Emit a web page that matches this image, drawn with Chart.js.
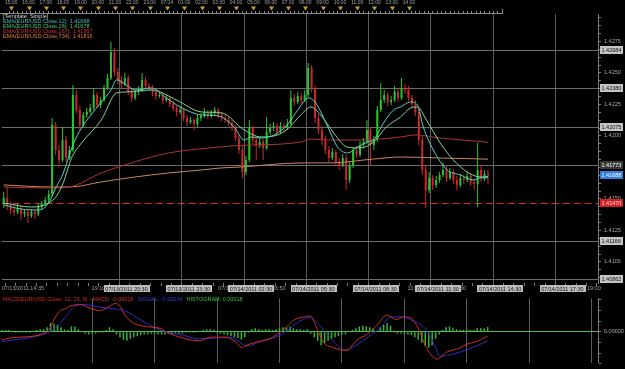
<!DOCTYPE html>
<html lang="en">
<head>
<meta charset="utf-8">
<title>EUR/USD with EMA and MACD</title>
<script src="https://cdn.jsdelivr.net/npm/chart.js@4.4.0/dist/chart.umd.min.js"></script>
<style>
  html, body { margin: 0; padding: 0; background: #000; }
  #wrap { position: relative; width: 625px; height: 369px; overflow: hidden; background: #000; }
  canvas { display: block; position: absolute; left: 0; }
  #main-chart { top: 0; }
  #macd-chart { top: 292px; }
</style>
</head>
<body>
<div id="wrap">
  <canvas id="main-chart" width="625" height="292"></canvas>
  <canvas id="macd-chart" width="625" height="77"></canvas>
</div>
<script>
// EUR/USD bars, one per 10 minutes starting 07/13/2011 14:35 (x value = bar number)
const opens = [1.41460,1.41508,1.41452,1.41412,1.41397,1.41428,1.41381,1.41397,1.41365,1.41397,
  1.41381,1.41436,1.41460,1.41492,1.41539,1.42087,1.41889,1.41809,1.41968,1.41825,
  1.41889,1.42326,1.42206,1.42087,1.42167,1.42191,1.42222,1.42326,1.42246,1.42286,
  1.42381,1.42461,1.42667,1.42508,1.42445,1.42413,1.42461,1.42349,1.42302,1.42349,
  1.42365,1.42445,1.42397,1.42381,1.42349,1.42318,1.42326,1.42286,1.42302,1.42254,
  1.42222,1.42191,1.42206,1.42143,1.42111,1.42127,1.42095,1.42143,1.42159,1.42191,
  1.42159,1.42183,1.42206,1.42167,1.42143,1.42127,1.42103,1.42064,1.41984,1.41889,
  1.41714,1.41809,1.42064,1.41968,1.41929,1.41952,1.41905,1.42032,1.42064,1.42079,
  1.42032,1.42079,1.42064,1.42095,1.42302,1.42270,1.42318,1.42286,1.42326,1.42540,
  1.42381,1.42143,1.42048,1.41968,1.41889,1.41825,1.41873,1.41794,1.41770,1.41825,
  1.41651,1.41770,1.41889,1.41849,1.41929,1.41952,1.42048,1.41929,1.41968,1.42206,
  1.42286,1.42326,1.42270,1.42286,1.42349,1.42302,1.42381,1.42365,1.42302,1.42254,
  1.42191,1.41968,1.41730,1.41571,1.41667,1.41611,1.41651,1.41690,1.41730,1.41667,
  1.41714,1.41651,1.41611,1.41667,1.41651,1.41682,1.41635,1.41619,1.41730,1.41667,
  1.41698];
const highs = [1.41555,1.41595,1.41476,1.41452,1.41460,1.41444,1.41420,1.41412,1.41420,1.41412,
  1.41460,1.41484,1.41516,1.41571,1.42143,1.42111,1.41929,1.42071,1.42000,1.41921,
  1.42405,1.42365,1.42238,1.42191,1.42222,1.42254,1.42381,1.42349,1.42310,1.42405,
  1.42492,1.42746,1.42699,1.42540,1.42476,1.42500,1.42484,1.42381,1.42365,1.42397,
  1.42500,1.42468,1.42421,1.42405,1.42365,1.42349,1.42341,1.42326,1.42318,1.42278,
  1.42246,1.42238,1.42222,1.42167,1.42151,1.42143,1.42167,1.42183,1.42222,1.42206,
  1.42206,1.42230,1.42222,1.42191,1.42167,1.42151,1.42127,1.42087,1.42008,1.41921,
  1.41841,1.42127,1.42079,1.41992,1.41984,1.41976,1.42151,1.42095,1.42111,1.42103,
  1.42111,1.42103,1.42135,1.42365,1.42333,1.42349,1.42341,1.42365,1.42580,1.42564,
  1.42405,1.42175,1.42079,1.42000,1.41921,1.41905,1.41889,1.41825,1.41857,1.41849,
  1.41794,1.41913,1.41921,1.41960,1.41984,1.42127,1.42071,1.42000,1.42238,1.42421,
  1.42365,1.42349,1.42318,1.42397,1.42373,1.42461,1.42413,1.42397,1.42326,1.42286,
  1.42222,1.42000,1.41762,1.41714,1.41690,1.41682,1.41714,1.41786,1.41762,1.41746,
  1.41738,1.41682,1.41698,1.41690,1.41714,1.41706,1.41659,1.41944,1.41770,1.41730,
  1.41730];
const lows = [1.41428,1.41412,1.41381,1.41365,1.41381,1.41333,1.41357,1.41309,1.41349,1.41341,
  1.41365,1.41412,1.41444,1.41476,1.41524,1.41849,1.41754,1.41794,1.41794,1.41809,
  1.41873,1.42183,1.42048,1.42071,1.42143,1.42175,1.42206,1.42222,1.42222,1.42270,
  1.42365,1.42445,1.42476,1.42413,1.42381,1.42397,1.42326,1.42270,1.42286,1.42326,
  1.42349,1.42373,1.42357,1.42318,1.42286,1.42302,1.42254,1.42270,1.42230,1.42199,
  1.42159,1.42175,1.42119,1.42079,1.42095,1.42048,1.42071,1.42119,1.42143,1.42135,
  1.42143,1.42167,1.42143,1.42119,1.42103,1.42079,1.42040,1.41960,1.41857,1.41667,
  1.41690,1.41794,1.41936,1.41809,1.41905,1.41809,1.41889,1.42008,1.42040,1.42000,
  1.42016,1.42032,1.42048,1.42079,1.42238,1.42254,1.42254,1.42270,1.42310,1.42349,
  1.42103,1.42016,1.41929,1.41857,1.41794,1.41809,1.41762,1.41730,1.41754,1.41571,
  1.41627,1.41746,1.41825,1.41833,1.41905,1.41936,1.41770,1.41889,1.41952,1.42191,
  1.42262,1.42238,1.42246,1.42270,1.42270,1.42286,1.42333,1.42278,1.42222,1.42159,
  1.41929,1.41690,1.41428,1.41547,1.41571,1.41587,1.41627,1.41674,1.41635,1.41651,
  1.41619,1.41571,1.41595,1.41619,1.41635,1.41603,1.41571,1.41436,1.41635,1.41643,
  1.41619];
const closes = [1.41508,1.41452,1.41412,1.41397,1.41428,1.41381,1.41397,1.41365,1.41397,1.41381,
  1.41436,1.41460,1.41492,1.41539,1.42087,1.41889,1.41809,1.41968,1.41825,1.41889,
  1.42326,1.42206,1.42087,1.42167,1.42191,1.42222,1.42326,1.42246,1.42286,1.42381,
  1.42461,1.42667,1.42508,1.42445,1.42413,1.42461,1.42349,1.42302,1.42349,1.42365,
  1.42445,1.42397,1.42381,1.42349,1.42318,1.42326,1.42286,1.42302,1.42254,1.42222,
  1.42191,1.42206,1.42143,1.42111,1.42127,1.42095,1.42143,1.42159,1.42191,1.42159,
  1.42183,1.42206,1.42167,1.42143,1.42127,1.42103,1.42064,1.41984,1.41889,1.41714,
  1.41809,1.42064,1.41968,1.41929,1.41952,1.41905,1.42032,1.42064,1.42079,1.42032,
  1.42079,1.42064,1.42095,1.42302,1.42270,1.42318,1.42286,1.42326,1.42540,1.42381,
  1.42143,1.42048,1.41968,1.41889,1.41825,1.41873,1.41794,1.41770,1.41825,1.41651,
  1.41770,1.41889,1.41849,1.41929,1.41952,1.42048,1.41929,1.41968,1.42206,1.42286,
  1.42326,1.42270,1.42286,1.42349,1.42302,1.42381,1.42365,1.42302,1.42254,1.42191,
  1.41968,1.41730,1.41571,1.41667,1.41611,1.41651,1.41690,1.41730,1.41667,1.41714,
  1.41651,1.41611,1.41667,1.41651,1.41682,1.41635,1.41619,1.41730,1.41667,1.41698,
  1.41688];

// moving averages: [bar, price]
const ema12 = [[0,1.41452],[5,1.41420],[10,1.41412],[13,1.41468],[15,1.41587],[17,1.41690],[20,1.41929],
  [22.5,1.42064],[25,1.42159],[28,1.42262],[31,1.42365],[32.6,1.42445],[35.4,1.42405],[38,1.42365],
  [42.7,1.42381],[47,1.42302],[50,1.42246],[54,1.42191],[57,1.42167],[62,1.42159],[66.6,1.42071],
  [69.5,1.41968],[71.5,1.41992],[74.4,1.41984],[79.2,1.42024],[82.4,1.42103],[85,1.42206],[88.2,1.42302],
  [90.2,1.42262],[93.7,1.42071],[96.5,1.41913],[99.4,1.41865],[102.3,1.41913],[105.2,1.41952],
  [106.9,1.41968],[109.8,1.42103],[112.7,1.42206],[114.7,1.42230],[117.6,1.42270],[119.6,1.42246],
  [121.3,1.42071],[124.2,1.41889],[128.2,1.41730],[132,1.41690],[135.7,1.41651],[137.8,1.41667],[140,1.41668]];
const ema26 = [[0,1.41468],[8,1.41436],[12.4,1.41460],[15.3,1.41524],[17.3,1.41635],[19.6,1.41825],
  [22.5,1.41944],[28.2,1.42127],[32.6,1.42341],[35.4,1.42349],[42.7,1.42365],[49.9,1.42286],[57.1,1.42191],
  [63,1.42183],[69.5,1.42048],[74.4,1.41992],[79.2,1.42008],[82.4,1.42064],[85.9,1.42167],[88.8,1.42230],
  [91.6,1.42167],[95.4,1.42024],[99.2,1.41913],[103,1.41905],[106.9,1.41952],[110.6,1.42071],
  [114.7,1.42151],[117.6,1.42222],[119.6,1.42230],[122.2,1.42127],[126.2,1.41944],[130,1.41809],
  [134,1.41714],[137.8,1.41674],[140,1.41678]];
const ema267 = [[0,1.41595],[14,1.41587],[19,1.41595],[28.2,1.41706],[37.8,1.41794],[47.6,1.41865],
  [62.8,1.41913],[65.7,1.41921],[85.9,1.41952],[88.8,1.41976],[94.5,1.41968],[103.2,1.41968],
  [114.7,1.41992],[119,1.42008],[126.2,1.41984],[140,1.41950]];
const ema734 = [[0,1.41611],[14,1.41595],[19,1.41595],[28.2,1.41635],[37.8,1.41674],[47.6,1.41706],
  [57.1,1.41730],[62.8,1.41746],[68.6,1.41754],[85.9,1.41786],[94.5,1.41786],[106.9,1.41817],
  [114.7,1.41833],[126.2,1.41825],[140,1.41816]];

// MACD(12, 26, 9)
const macdLine = [[0,-0.0003],[2.3,-0.00023],[5.2,-0.0002],[11,-0.0001],[13.8,0.00013],[15.3,0.00053],
  [16.7,0.00079],[18.2,0.00086],[19.6,0.00096],[22.5,0.00102],[25.4,0.00089],[28.2,0.00079],[31.1,0.00096],
  [32.6,0.00106],[34,0.00096],[35.4,0.00063],[38.3,0.0003],[41.2,0.0002],[45.5,0.00013],[48.4,-0.00007],
  [51.3,-0.0002],[54.2,-0.0003],[57.1,-0.00033],[59.9,-0.0002],[64.3,-0.0002],[67.2,-0.00036],
  [69.2,-0.00059],[70,-0.00053],[72.9,-0.0004],[77.2,-0.00026],[81.6,0.00013],[84.4,0.00046],
  [87.3,0.00056],[88.8,0.00059],[90.8,0.00013],[92.5,-0.00036],[95.3,-0.00059],[99.4,-0.00069],
  [102.3,-0.0003],[105.2,-0.0001],[108,0.00023],[110.9,0.00063],[113.8,0.00046],[115.6,0.00056],
  [117.6,0.00053],[119.6,0.00023],[122.5,-0.00063],[125.4,-0.00102],[128.2,-0.00076],[132,-0.0006],
  [134,-0.00046],[136.9,-0.00036],[140,-0.00016]];
const signalLine = [[0,-0.00036],[11,-0.00013],[15.3,0.00013],[18.2,0.00053],[21,0.00096],[23.9,0.00102],
  [28.2,0.00092],[32.6,0.00086],[35.4,0.00079],[39.8,0.00046],[45.5,0.00007],[51.3,-0.0001],[57.1,-0.00026],
  [65.7,-0.0002],[70.9,-0.00053],[74.4,-0.00036],[80.1,-0.00013],[83,0.00013],[85.9,0.0004],[88.8,0.00053],
  [91.1,0.0003],[94.5,-0.0002],[98.8,-0.00069],[101.7,-0.00053],[106.1,-0.00013],[108.9,0.00013],
  [111.8,0.00053],[114.7,0.00056],[117.6,0.00046],[121.9,0.00013],[124.8,-0.00053],[126.2,-0.00092],
  [129.1,-0.00086],[134.9,-0.00063],[140,-0.00034]];
const histogram = [0.00007,0.00007,0.00007,0.00003,-0.00003,-0.00003,-0.00003,-0.00003,-0.00003,0.00003,
  0.00007,0.0001,0.0001,0.00017,0.00033,0.0003,0.00026,0.00017,0.0001,0.00007,
  0.0002,0.0002,0.0001,0.00003,-0.00007,-0.0001,-0.00007,-0.00007,-0.00003,-0.00003,
  0.00007,0.00017,0.0001,-0.0001,-0.0002,-0.0003,-0.00033,-0.00026,-0.0002,-0.00017,
  -0.00013,-0.0001,-0.0001,-0.00007,-0.00007,-0.0001,-0.0001,-0.0001,-0.00007,-0.0001,
  -0.00007,-0.00007,-0.00007,-0.00003,-0.00003,-0.00003,-0.00003,0.00003,0.00007,0.0001,
  0.0001,0.00007,-0.00003,-0.00007,-0.0001,-0.00013,-0.00017,-0.0002,-0.00023,-0.0003,
  -0.0002,-0.00003,0.0001,0.00013,0.0001,0.00007,0.0001,0.0001,0.00007,0.0001,
  0.00013,0.00017,0.00017,0.0002,0.00013,0.0001,0.0001,0.00007,0.0001,-0.00007,
  -0.0002,-0.00033,-0.0005,-0.00043,-0.00033,-0.00026,-0.0002,-0.00017,-0.0001,-0.0001,
  0.00003,0.00007,0.00013,0.0002,0.00023,0.0002,0.00017,0.00013,0.00003,0.00017,
  0.00026,0.00033,0.00023,-0.00003,-0.00007,-0.00007,-0.0001,-0.0001,-0.00013,-0.0002,
  -0.0003,-0.0004,-0.00053,-0.0006,-0.0005,-0.00026,-0.0001,0.00007,0.00017,0.0002,
  0.00013,0.0001,0.00007,0.00007,0.0001,0.00007,0.00007,0.00013,0.00013,0.00013,
  0.00018];

// axis texts
const topHours = ['15:00','16:00','17:00','18:00','19:00','20:00','21:00','22:00','23:00','07/14',
  '01:00','02:00','03:00','04:00','05:00','06:00','07:00','08:00','09:00','10:00','11:00','12:00','13:00','14:00'];
const gridBars = [35, 53, 71, 89, 107, 125, 143, 161];
const gridDates = ['07/13/2011 20:30','07/13/2011 23:30','07/14/2011 02:30','07/14/2011 05:30',
  '07/14/2011 08:30','07/14/2011 11:30','07/14/2011 14:30','07/14/2011 17:30'];
const plainDates = ['07/13/2011 14:35','19:10','07/14/2011 01:50','03:50','10:20','12:30','19:00'];
const plainDateBars = [-0.58, 25.4, 62, 77.5, 116.7, 129.7, 168.6];
const levelValues = [1.42684, 1.42380, 1.42075, 1.41773, 1.41166, 1.40862];
const alertLevel = 1.41470;
const lastPrice = 1.41688;
const legendTexts = ['[Template: Simple]','EMA(EUR/USD.Close,12): 1.41668','EMA(EUR/USD.Close,26): 1.41678',
  'EMA(EUR/USD.Close,267): 1.41957','EMA(EUR/USD.Close,734): 1.41816'];
const macdTexts = ['MACD(EUR/USD.Close, 12, 26, 9) - MACD: -0.00016','SIGNAL: -0.00034','HISTOGRAM: 0.00018'];

// styling
const FONT = '"Liberation Sans", Arial, sans-serif';
const legendColors = ['#d8d8d8', '#3fc4bd', '#4fc474', '#d43030', '#e07a3a'];
const macdTextColors = ['#d42a2a', '#2f3fd8', '#36c236'];
const upColor = '#2cc42c';
const downColor = '#cc2828';
const xMin = -0.58, xMax = 171.8;
const priceMin = 1.40833, priceMax = 1.42968;

function toPoints(arr) {
  return arr.map(p => ({ x: p[0], y: p[1] }));
}

const candleColors = closes.map((c, i) => c >= opens[i] ? upColor : downColor);
const bodies = closes.map((c, i) => ({ x: i, y: [Math.min(opens[i], c), Math.max(opens[i], c)] }));
const wicks = closes.map((c, i) => ({ x: i, y: [lows[i], highs[i]] }));

function lineSet(label, data, color) {
  return {
    type: 'line', label: label, data: toPoints(data),
    borderColor: color, borderWidth: 1, pointRadius: 0,
    cubicInterpolationMode: 'monotone', fill: false
  };
}

function drawBox(ctx, cx, cy, text, bg, fg) {
  const w = ctx.measureText(text).width;
  ctx.fillStyle = bg;
  ctx.fillRect(Math.round(cx - w / 2 - 1.5), Math.round(cy - 4), Math.ceil(w + 3), 8);
  ctx.fillStyle = fg;
  ctx.fillText(text, cx, cy + 0.5);
}

const mainDecor = {
  id: 'mainDecor',
  beforeDatasetsDraw(chart) {
    const { ctx, chartArea: area } = chart;
    const y = chart.scales.y;
    ctx.save();
    ctx.lineWidth = 1;
    ctx.strokeStyle = '#6c6c6c';
    levelValues.forEach(v => {
      const py = Math.round(y.getPixelForValue(v)) + 0.5;
      ctx.beginPath();
      ctx.moveTo(area.left, py);
      ctx.lineTo(area.right, py);
      ctx.stroke();
    });
    // alert level
    const ay = Math.round(y.getPixelForValue(alertLevel)) + 0.5;
    ctx.strokeStyle = '#e02828';
    ctx.setLineDash([7, 4]);
    ctx.beginPath();
    ctx.moveTo(area.left, ay);
    ctx.lineTo(area.right, ay);
    ctx.stroke();
    ctx.restore();
  },
  afterDraw(chart) {
    const { ctx } = chart;
    const { x, xTop, y } = chart.scales;
    ctx.save();

    // navigator markers on the top ruler
    ctx.fillStyle = '#c9a12a';
    topHours.forEach((t, h) => {
      const px = Math.round(xTop.getPixelForValue(h)) + 0.5;
      ctx.beginPath();
      ctx.moveTo(px - 2.5, 6.5);
      ctx.lineTo(px + 2.5, 6.5);
      ctx.lineTo(px, 10.5);
      ctx.closePath();
      ctx.fill();
    });
    const rulerEnd = Math.round(xTop.getPixelForValue(28.4)) + 0.5;
    ctx.strokeStyle = '#8a8a8a';
    ctx.lineWidth = 1;
    ctx.beginPath();
    ctx.moveTo(0, 13.5);
    ctx.lineTo(rulerEnd, 13.5);
    ctx.lineTo(rulerEnd, 9);
    ctx.stroke();

    // indicator legend
    ctx.font = '5.5px ' + FONT;
    ctx.textBaseline = 'middle';
    ctx.textAlign = 'left';
    legendTexts.forEach((t, k) => {
      ctx.fillStyle = legendColors[k];
      ctx.fillText(t, 3, 16 + k * 5);
    });

    // date row under the price panel
    ctx.fillStyle = '#a0a0a0';
    plainDates.forEach((t, k) => {
      ctx.fillText(t, Math.max(x.getPixelForValue(plainDateBars[k]), 0), 288.5);
    });
    ctx.textAlign = 'center';
    gridDates.forEach((t, k) => {
      drawBox(ctx, x.getPixelForValue(gridBars[k] + 0.5), 288.5, t, '#bdbdbd', '#111');
    });

    // price boxes on the right axis
    ctx.textAlign = 'left';
    const boxes = levelValues.map(v => [v, v === 1.41773 ? '#3a3a3a' : '#c4c4c4', v === 1.41773 ? '#fff' : '#111'])
      .concat([[lastPrice, '#2f7fdc', '#fff'], [alertLevel, '#d42020', '#ffe0e0']]);
    boxes.forEach(b => {
      const py = Math.round(y.getPixelForValue(b[0]));
      ctx.fillStyle = b[1];
      ctx.fillRect(y.left + 2, py - 4, 23, 8);
      ctx.fillStyle = b[2];
      ctx.fillText(b[0].toFixed(5), y.left + 3.5, py + 0.5);
    });
    ctx.restore();
  }
};

const macdDecor = {
  id: 'macdDecor',
  afterDraw(chart) {
    const { ctx } = chart;
    ctx.save();
    ctx.font = '5.5px ' + FONT;
    ctx.textBaseline = 'middle';
    ctx.textAlign = 'left';
    let tx = 3;
    macdTexts.forEach((t, k) => {
      ctx.fillStyle = macdTextColors[k];
      ctx.fillText(t, tx, 7.5);
      tx += ctx.measureText(t).width + 4;
    });
    ctx.restore();
  }
};

const baseOptions = {
  responsive: false,
  animation: false,
  devicePixelRatio: 1,
  events: [],
  plugins: { legend: { display: false }, tooltip: { enabled: false } }
};

document.addEventListener('DOMContentLoaded', function() {
  // price panel
  new Chart(document.getElementById('main-chart'), {
    type: 'bar',
    data: {
      datasets: [
        lineSet('EMA 12', ema12, '#55cfc6'),
        lineSet('EMA 26', ema26, '#7ad892'),
        lineSet('EMA 267', ema267, '#b03434'),
        lineSet('EMA 734', ema734, '#c9865e'),
        { label: 'body', data: bodies, backgroundColor: candleColors, barThickness: 2,
          grouped: false, minBarLength: 1, borderWidth: 0, inflateAmount: 0 },
        { label: 'wick', data: wicks, backgroundColor: candleColors, barThickness: 1,
          grouped: false, borderWidth: 0, inflateAmount: 0 }
      ]
    },
    options: Object.assign({}, baseOptions, {
      layout: { autoPadding: false, padding: 0 },
      scales: {
        x: {
          type: 'linear', position: 'bottom', min: xMin, max: xMax, offset: false, bounds: 'data',
          afterBuildTicks: s => {
            const t = [];
            for (let v = 2; v <= 170; v += 3) t.push({ value: v });
            s.ticks = t;
          },
          afterFit: s => { s.height = 9; },
          ticks: { display: false },
          grid: {
            color: c => (c.tick && gridBars.includes(c.tick.value)) ? '#5c5c5c' : 'rgba(0,0,0,0)',
            tickColor: '#7a7a7a', tickLength: 3
          },
          border: { display: false }
        },
        xTop: {
          type: 'linear', position: 'top', min: -0.4, max: 33.77, bounds: 'data',
          afterBuildTicks: s => {
            const t = [];
            for (let k = 0; k <= 113; k++) t.push({ value: k / 4 });
            s.ticks = t;
          },
          afterFit: s => { s.height = 14; },
          ticks: {
            autoSkip: false, maxRotation: 0, padding: 5, color: '#a0a0a0',
            font: { family: FONT, size: 5 },
            callback: v => Number.isInteger(v) && v < topHours.length ? topHours[v] : ''
          },
          grid: { drawOnChartArea: false, tickColor: '#8a8a8a', tickLength: 3 },
          border: { display: false }
        },
        y: {
          type: 'linear', position: 'right', min: priceMin, max: priceMax, bounds: 'data',
          afterBuildTicks: s => {
            const t = [];
            for (let k = 0; k < 34; k++) t.push({ value: 1.40875 + k * 0.000625 });
            s.ticks = t;
          },
          afterFit: s => { s.width = 27; },
          ticks: {
            autoSkip: false, padding: 3, color: '#a8a8a8',
            font: { family: FONT, size: 5.5 },
            callback: v => Math.abs(v * 400 - Math.round(v * 400)) < 1e-6 ? v.toFixed(4) : ''
          },
          grid: { drawOnChartArea: false, tickColor: '#7a7a7a', tickLength: 3 },
          border: { color: '#7a7a7a' }
        }
      }
    }),
    plugins: [mainDecor]
  });

  // MACD panel
  new Chart(document.getElementById('macd-chart'), {
    type: 'bar',
    data: {
      datasets: [
        lineSet('MACD', macdLine, '#d42a2a'),
        lineSet('Signal', signalLine, '#2b2bc8'),
        { label: 'Histogram', data: histogram.map((v, i) => ({ x: i, y: v })),
          backgroundColor: '#38b238', barThickness: 1.5, grouped: false, borderWidth: 0, inflateAmount: 0 }
      ]
    },
    options: Object.assign({}, baseOptions, {
      layout: { autoPadding: false, padding: { top: 4 } },
      scales: {
        x: {
          type: 'linear', min: xMin, max: xMax, offset: false, bounds: 'data',
          afterBuildTicks: s => { s.ticks = gridBars.map(v => ({ value: v })); },
          afterFit: s => { s.height = 0; },
          ticks: { display: false },
          grid: { color: '#5c5c5c', drawTicks: false },
          border: { display: false }
        },
        y: {
          type: 'linear', position: 'right', min: -0.001155, max: 0.001254, bounds: 'data',
          afterBuildTicks: s => {
            const t = [];
            for (let k = -3; k <= 3; k++) t.push({ value: k * 0.0004 });
            s.ticks = t;
          },
          afterFit: s => { s.width = 27; },
          ticks: {
            autoSkip: false, padding: 3, color: '#a8a8a8',
            font: { family: FONT, size: 5.5 },
            callback: v => Math.abs(v) < 1e-9 ? '0.00000' : ''
          },
          grid: {
            color: c => (c.tick && Math.abs(c.tick.value) < 1e-9) ? '#4cbc4c' : 'rgba(0,0,0,0)',
            tickColor: '#7a7a7a', tickLength: 3
          },
          border: { color: '#7a7a7a' }
        }
      }
    }),
    plugins: [macdDecor]
  });
});
</script>
</body>
</html>
